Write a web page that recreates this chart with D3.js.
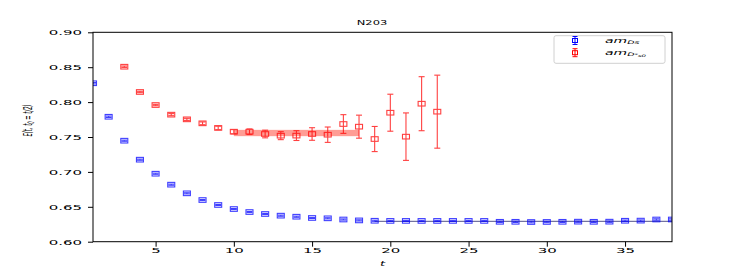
<!DOCTYPE html>
<html><head><meta charset="utf-8">
<script src="https://cdn.jsdelivr.net/npm/d3@7"></script>
<style>body{margin:0;background:#fff}svg{display:block}text{font-family:"DejaVu Sans",sans-serif}</style>
</head><body><svg id="c" width="747" height="272"></svg>
<script>
const blueT = d3.range(1, 39);
const blueVal = [0.827,0.779,0.7447,0.7175,0.6974,0.6817,0.6693,0.6597,0.6526,0.6468,0.6425,0.6397,0.6373,0.6358,0.6340,0.6335,0.6318,0.6305,0.6300,0.6298,0.6298,0.6298,0.6298,0.6298,0.6298,0.6298,0.6285,0.6285,0.6282,0.6283,0.6285,0.6287,0.6285,0.6287,0.6300,0.6302,0.6318,0.6318];
const blueErr = [0.001,0.001,0.0008,0.0008,0.0008,0.0008,0.0008,0.0008,0.0008,0.0008,0.0008,0.0008,0.0008,0.0008,0.0008,0.0008,0.0008,0.0008,0.0008,0.0008,0.0008,0.0008,0.0008,0.0008,0.0008,0.0008,0.001,0.001,0.0012,0.001,0.001,0.001,0.001,0.001,0.001,0.001,0.001,0.001];
const redT = d3.range(3, 24);
const redVal = [0.8507,0.8145,0.7958,0.782,0.7753,0.7696,0.763,0.7576,0.7576,0.7543,0.7519,0.752,0.7543,0.7533,0.7686,0.7648,0.7471,0.7848,0.7505,0.7977,0.7863];
const redErr = [0.001,0.001,0.001,0.0015,0.0015,0.002,0.0025,0.003,0.004,0.0055,0.0057,0.007,0.009,0.011,0.0134,0.0165,0.018,0.0265,0.034,0.0387,0.0523];
const redFit = {t0: 10, t1: 18, val: 0.7557, err: 0.0045};
const blueFit = {t0: 19, t1: 38, val: 0.6292};
const xTicks = [5,10,15,20,25,30,35];
const yTicks = [0.60,0.65,0.70,0.75,0.80,0.85,0.90];
const title = "N203";

const L = 93, R = 672, T = 32.3, B = 241.7;
const x = d3.scaleLinear().domain([1, 38]).range([L, R]);
const y = d3.scaleLinear().domain([0.60, 0.90]).range([B, T]);
const svg = d3.select("#c");

svg.append("defs").append("clipPath").attr("id","clip")
  .append("rect").attr("x",L).attr("y",T).attr("width",R-L).attr("height",B-T);
const plot = svg.append("g").attr("clip-path","url(#clip)");

// fits
plot.append("rect").attr("x", x(redFit.t0)).attr("width", x(redFit.t1)-x(redFit.t0))
  .attr("y", y(redFit.val+redFit.err)).attr("height", y(redFit.val-redFit.err)-y(redFit.val+redFit.err))
  .attr("fill","#ff3b2b").attr("opacity",0.5);
plot.append("line").attr("x1", x(blueFit.t0)).attr("x2", x(blueFit.t1))
  .attr("y1", y(blueFit.val)).attr("y2", y(blueFit.val))
  .attr("stroke","#2a2a70").attr("stroke-width",1).attr("opacity",0.8);

function series(ts, vals, errs, color){
  const g = plot.append("g").attr("stroke", color).attr("fill","none").attr("stroke-width",1.1).attr("opacity",0.75);
  ts.forEach((t,i)=>{
    const cx = x(t), v = vals[i], e = errs[i];
    g.append("line").attr("x1",cx).attr("x2",cx).attr("y1",y(v+e)).attr("y2",y(v-e));
    g.append("line").attr("x1",cx-3).attr("x2",cx+3).attr("y1",y(v+e)).attr("y2",y(v+e));
    g.append("line").attr("x1",cx-3).attr("x2",cx+3).attr("y1",y(v-e)).attr("y2",y(v-e));
    g.append("rect").attr("x",cx-3.5).attr("y",y(v)-2.3).attr("width",7).attr("height",4.6);
  });
}
series(blueT, blueVal, blueErr, "#0000ff");
series(redT, redVal, redErr, "#ff0000");

// axes
const ax = svg.append("g").attr("transform",`translate(0,${B})`)
  .call(d3.axisBottom(x).tickValues(xTicks).tickSize(5).tickFormat(d3.format("d")));
ax.select(".domain").remove();
ax.selectAll("text").attr("y",0).attr("dy",0).attr("transform","translate(0,11.5) scale(1,0.48)")
  .style("font-size","15px").attr("fill","#000");
const ay = svg.append("g").attr("transform",`translate(${L},0)`)
  .call(d3.axisLeft(y).tickValues(yTicks).tickSize(5).tickFormat(d3.format(".2f")));
ay.select(".domain").remove();
ay.selectAll("text").attr("x",0).attr("dy","0.36em").attr("transform","translate(-11,0) scale(1,0.48)")
  .style("font-size","15px").attr("fill","#000");
svg.selectAll(".tick line").attr("stroke","#000");

svg.append("rect").attr("x",L).attr("y",T).attr("width",R-L).attr("height",B-T)
  .attr("fill","none").attr("stroke","#000").attr("stroke-width",1);

// title
svg.append("text").attr("transform","translate(372,24.5) scale(1,0.62)")
  .attr("text-anchor","middle").style("font-size","11.5px").text(title);

// x label
svg.append("text").attr("transform","translate(382.5,265.5) scale(1,0.55)")
  .attr("text-anchor","middle").style("font-size","13px").style("font-style","italic").text("t");

// y label
const yl = svg.append("text").attr("transform","translate(31.5,120.5) scale(1,0.42) rotate(-90)")
  .attr("text-anchor","middle").style("font-size","12.5px").style("font-style","italic");
yl.append("tspan").text("E(t, t");
yl.append("tspan").attr("baseline-shift","-25%").style("font-size","9px").text("0");
yl.append("tspan").text(" = t/2)");

// legend
const lg = svg.append("g");
lg.append("rect").attr("x",554).attr("y",35.7).attr("width",111).attr("height",27.6).attr("rx",2)
  .attr("fill","#fff").attr("fill-opacity",0.8).attr("stroke","#d0d0d0");
[[40.5,"#0000ff"],[52.7,"#ff0000"]].forEach(([ly,c])=>{
  const g = lg.append("g").attr("stroke",c).attr("fill","none").attr("stroke-width",1);
  g.append("line").attr("x1",575).attr("x2",575).attr("y1",ly-4).attr("y2",ly+4);
  g.append("line").attr("x1",572.5).attr("x2",577.5).attr("y1",ly-4).attr("y2",ly-4);
  g.append("line").attr("x1",572.5).attr("x2",577.5).attr("y1",ly+4).attr("y2",ly+4);
  g.append("rect").attr("x",572.5).attr("y",ly-2).attr("width",5).attr("height",4);
});
const t1 = lg.append("text").attr("transform","translate(605,43) scale(1,0.5)")
  .style("font-size","14px").style("font-style","italic");
t1.append("tspan").text("am");
t1.append("tspan").attr("baseline-shift","-25%").style("font-size","9.5px").text("Ds");
const t2 = lg.append("text").attr("transform","translate(605,55) scale(1,0.5)")
  .style("font-size","14px").style("font-style","italic");
t2.append("tspan").text("am");
t2.append("tspan").attr("baseline-shift","-25%").style("font-size","9.5px").text("D");
t2.append("tspan").attr("baseline-shift","-10%").style("font-size","7px").text("*");
t2.append("tspan").attr("baseline-shift","-50%").style("font-size","7px").text("s0");
</script></body></html>
